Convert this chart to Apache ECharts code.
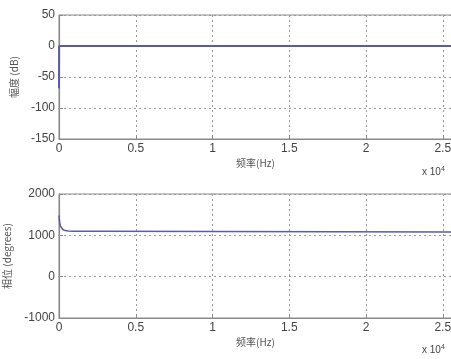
<!DOCTYPE html>
<html><head><meta charset="utf-8">
<script src="https://cdn.jsdelivr.net/npm/echarts@6/dist/echarts.min.js"></script>
<style>html,body{margin:0;padding:0;background:#fff}#c{width:451px;height:359px}</style>
</head><body><div id="c"></div>
<script>
// Frequency in Hz
const magFreq = [0, 8, 25600];
const magDb   = [-68, 0, 0];
const phaseFreq = [0, 20, 50, 100, 150, 250, 400, 600, 900, 2450, 2500, 25600];
const phaseDeg  = [1480, 1400, 1300, 1220, 1180, 1140, 1115, 1105, 1100, 1100, 1080, 1080];
const xTicks = [0, 5000, 10000, 15000, 20000, 25000];
const magTicks = [50, 0, -50, -100, -150];
const phaseTicks = [2000, 1000, 0, -1000];

const font = '"Liberation Sans", Arial, sans-serif';
const cjk = '"Noto Sans CJK SC", "Liberation Sans", sans-serif';
const lineColor = '#5b5ba6';
const frameColor = '#8a8a8a';

function xAxis(gi) {
  return {
    type: 'value', gridIndex: gi, min: 0, max: 25600, interval: 5000,
    axisLine: {show: true, onZero: false, lineStyle: {color: frameColor, width: 1.2}},
    axisTick: {show: true, inside: true, length: 4, lineStyle: {color: frameColor}},
    axisLabel: {
      color: '#444', fontSize: 12, fontFamily: font, margin: 4,
      showMaxLabel: false,
      formatter: v => xTicks.includes(v) ? String(v / 10000) : ''
    },
    splitLine: {show: true, lineStyle: {type: [2, 3], color: '#9a9a9a', width: 1}},
    name: '频率(Hz)', nameLocation: 'middle', nameGap: 19,
    nameTextStyle: {color: '#555', fontSize: 10, fontFamily: cjk}
  };
}
function yAxis(gi, min, max, interval, ticks, name, gap) {
  return {
    type: 'value', gridIndex: gi, min, max, interval,
    axisLine: {show: true, onZero: false, lineStyle: {color: frameColor, width: 1.2}},
    axisTick: {show: true, inside: true, length: 4, lineStyle: {color: frameColor}},
    axisLabel: {color: '#444', fontSize: 12, fontFamily: font, margin: 4,
      formatter: v => ticks.includes(v) ? String(v) : ''},
    splitLine: {show: true, lineStyle: {type: [2, 3], color: '#9a9a9a', width: 1}},
    name, nameLocation: 'middle', nameGap: gap,
    nameTextStyle: {color: '#555', fontSize: 10, fontFamily: cjk}
  };
}

const chart = echarts.init(document.getElementById('c'), null, {renderer: 'canvas'});
chart.setOption({
  animation: false,
  backgroundColor: '#fff',
  grid: [
    {left: 59, top: 15, width: 393, height: 124, show: true, borderColor: frameColor, borderWidth: 1, containLabel: false, outerBoundsMode: 'none'},
    {left: 59, top: 194, width: 393, height: 124, show: true, borderColor: frameColor, borderWidth: 1, containLabel: false, outerBoundsMode: 'none'}
  ],
  xAxis: [xAxis(0), xAxis(1)],
  yAxis: [
    yAxis(0, -150, 50, 50, magTicks, '幅度 (dB)', 40),
    yAxis(1, -1000, 2000, 1000, phaseTicks, '相位 (degrees)', 47)
  ],
  series: [
    {type: 'line', xAxisIndex: 0, yAxisIndex: 0, showSymbol: false, smooth: false,
     lineStyle: {color: lineColor, width: 2}, data: magFreq.map((f, i) => [f, magDb[i]])},
    {type: 'line', xAxisIndex: 1, yAxisIndex: 1, showSymbol: false, smooth: false,
     lineStyle: {color: lineColor, width: 1.5}, data: phaseFreq.map((f, i) => [f, phaseDeg[i]])}
  ],
  graphic: [
    {type: 'text', left: 422, top: 166, style: {
      text: '{a|x 10}{b|4}', rich: {a: {fontSize: 10, fontFamily: font, fill: '#444'}, b: {fontSize: 7, fontFamily: font, fill: '#444', verticalAlign: 'top', padding: [0,0,6,0]}}}},
    {type: 'text', left: 422, top: 344, style: {
      text: '{a|x 10}{b|4}', rich: {a: {fontSize: 10, fontFamily: font, fill: '#444'}, b: {fontSize: 7, fontFamily: font, fill: '#444', verticalAlign: 'top', padding: [0,0,6,0]}}}}
  ]
});
</script></body></html>
